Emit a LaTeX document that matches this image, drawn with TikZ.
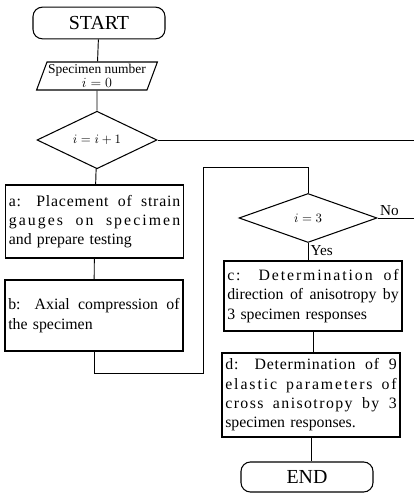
\documentclass[tikz,border=0pt]{standalone}
\usepackage{fontspec}
\setmainfont{Liberation Serif}
\usetikzlibrary{shapes.geometric}

% a full justified line inside a box, optional letter spacing
\newcommand{\spreadline}[2][0]{\makebox[5.14cm][s]{\addfontfeature{LetterSpace=#1}\spaceskip=0pt\xspaceskip=0pt\relax #2}}

\begin{document}
\begin{tikzpicture}[
    term/.style={draw, line width=0.9pt, rounded corners=8pt, minimum width=3.96cm, minimum height=0.95cm, font=\fontsize{17}{20}\selectfont},
    io/.style={draw, line width=0.9pt, trapezium, trapezium left angle=68, trapezium right angle=112, trapezium stretches body, minimum width=3.5cm, minimum height=0.84cm, inner sep=1pt, align=center, font=\fontsize{11.5}{12}\selectfont},
    decide/.style={draw, line width=0.9pt, diamond, inner sep=0pt, font=\fontsize{11}{13}\selectfont},
    proc/.style={draw, line width=0.9pt, rectangle, text width=5.14cm, inner xsep=0.1cm, align=left, font=\fontsize{13.5}{16.5}\selectfont},
    link/.style={line width=0.8pt}
  ]
        % \draw[help lines, gray!50, very thin] (0,0) grid (12,14);
        \useasboundingbox (0,0) rectangle (12.42,14.85);

        \node[term] (start) at (2.97,14.16) {START};
        \node[io] (spec) at (2.91,12.57) {Specimen number\\$i=0$};
        \node[decide, minimum width=3.6cm, minimum height=1.44cm] (inc) at (2.91,10.65) {$i=i+1$};

        \node[proc, minimum height=2.19cm] (a) at (2.835,8.205) {\spreadline[5]{a: Placement of strain}\\\spreadline[13]{gauges on specimen}\\and prepare testing};
        \node[proc, minimum height=2.13cm] (b) at (2.82,5.385) {\spreadline{b: Axial compression of}\\the specimen\\[4pt]};

        \node[decide, minimum width=4.14cm, minimum height=1.47cm] (chk) at (9.24,8.31) {$i=3$};
        \node[anchor=south west, inner sep=2pt, font=\fontsize{13}{16}\selectfont] (no) at (chk.east) {No};
        \node[anchor=north west, inner sep=2pt, font=\fontsize{13}{16}\selectfont] (yes) at (chk.south) {Yes};

        \node[proc, minimum height=2.1cm] (c) at (9.39,5.97) {\spreadline[12]{c: Determination of}\\\spreadline{direction of anisotropy by}\\3 specimen responses};
        \node[proc, minimum height=2.52cm] (d) at (9.33,3.0) {\spreadline[5]{d: Determination of 9}\\\spreadline[12]{elastic parameters of}\\\spreadline[9]{cross anisotropy by 3}\\specimen responses.};
        \node[term, minimum height=0.9cm] (end) at (9.21,0.54) {END};

        \coordinate (out1) at (12.42,10.65);
        \coordinate (out2) at (12.42,8.31);
        \coordinate (loopa) at (6.09,3.66);
        \coordinate (loopb) at (6.09,9.84);

        \draw[link] (start) -- (spec);
        \draw[link] (spec) -- (inc);
        \draw[link] (inc.east) -- (out1);
        \draw[link] (inc) -- (a);
        \draw[link] (a) -- (b);
        \draw[link] (b.south) |- (loopa) -- (loopb) -| (chk.north);
        \draw[link] (chk.east) -- (out2);
        \draw[link] (chk.south) -- (chk.south |- c.north);
        \draw[link] (c.south) -- (c.south |- d.north);
        \draw[link] (d.south) -- (d.south |- end.north);
      \end{tikzpicture}
\end{document}
